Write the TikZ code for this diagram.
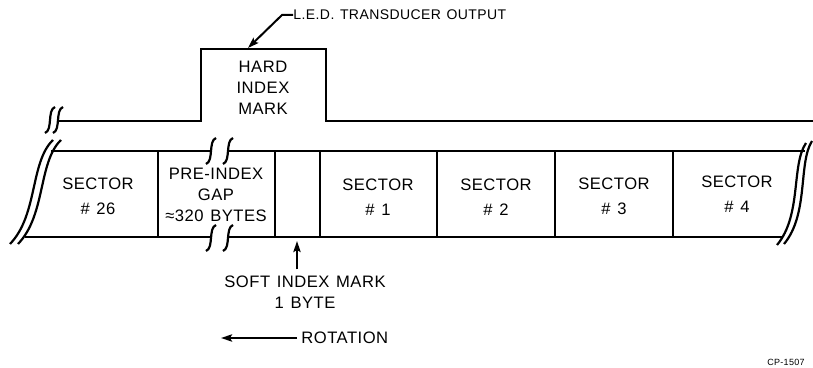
\documentclass[tikz,border=0pt]{standalone}
\usepackage{fontspec}
\setmainfont[LetterSpace=3,WordSpace=1.3]{Liberation Sans}
\usepackage{tikz}
\usetikzlibrary{arrows.meta}

\begin{document}
\begin{tikzpicture}[x=0.5pt, y=-0.5pt,
  lbl/.style={font=\fontsize{8.3}{10.5}\selectfont, align=center, inner sep=0pt},
  sec/.style={lbl, font=\fontsize{8.3}{12.5}\selectfont},
  small/.style={lbl, font=\fontsize{7}{9}\selectfont},
  trk/.style={line width=1.1pt},
  sig/.style={line width=1.4pt, line join=miter},
  arr/.style={-{Stealth[length=5.5pt,width=3.6pt,inset=1pt]}, line width=1pt},
  brk/.pic={\draw[trk] (5,-13) .. controls (-3,-10) and (3,10) .. (-5,13);}]
\useasboundingbox (0,0) rectangle (813,368);
% index signal
\draw[sig] (58,121) -- (201,121) -- (201,49) -- (326,49) -- (326,121) -- (813,121);
\pic at (50,120) {brk};
\pic at (58,120) {brk};
% track
\draw[trk] (51,151) -- (211,151) (228,151) -- (805,151);
\draw[trk] (25,237) -- (211,237) (228,237) -- (782,237);
\draw[trk] (158,151) -- (158,237) (275,151) -- (275,237) (320,151) -- (320,237)
  (437,151) -- (437,237) (555,151) -- (555,237) (673,151) -- (673,237);
\draw[trk] (53,140) .. controls (30,162) and (38,215) .. (10,244)
  (61,140) .. controls (38,162) and (46,215) .. (18,244);
\draw[trk] (806,143) .. controls (791,165) and (802,215) .. (777,245)
  (812,141) .. controls (798,163) and (809,214) .. (784,244);
\pic at (211,151) {brk};
\pic at (228,151) {brk};
\pic at (211,238) {brk};
\pic at (228,238) {brk};
% sectors
\node[sec] (s26) at (98,196) {SECTOR\\\# 26};
\node[lbl] (gap) at (216,195) {PRE-INDEX\\GAP\\≈320 BYTES};
\node[sec] (s1)  at (378,197) {SECTOR\\\# 1};
\node[sec] (s2)  at (496,197) {SECTOR\\\# 2};
\node[sec] (s3)  at (614,196) {SECTOR\\\# 3};
\node[sec] (s4)  at (737,194) {SECTOR\\\# 4};
\node[lbl] (hard) at (263,88) {HARD\\INDEX\\MARK};
% labels and arrows
\node[small, anchor=west] (led) at (293,15) {L.E.D. TRANSDUCER OUTPUT};
\coordinate (ledtip) at (248,48);
\draw[arr] (led.west) -- ++(-11,0) -- (ledtip);
\node[lbl] (soft) at (305,292) {SOFT INDEX MARK\\1 BYTE};
\coordinate (softtip) at (297,241);
\draw[arr] ([yshift=3pt]soft.north -| softtip) -- (softtip);
\node[lbl, anchor=west] (rot) at (301,338) {ROTATION};
\coordinate (rottip) at (221,338);
\draw[arr] ([xshift=-2pt]rot.west) -- (rottip);
\node[lbl, font=\fontsize{4.5}{5}\selectfont] (cp) at (786,362) {CP-1507};
\end{tikzpicture}
\end{document}
